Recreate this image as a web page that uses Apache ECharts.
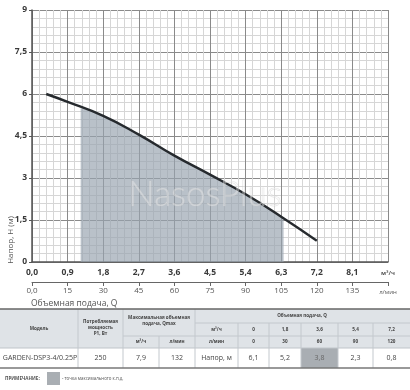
<!DOCTYPE html>
<html><head><meta charset="utf-8">
<script src="https://cdn.jsdelivr.net/npm/echarts@6/dist/echarts.min.js"></script>
<style>html,body{margin:0;padding:0;background:#fff}#c{width:410px;height:390px}</style>
</head><body><div id="c"></div>
<script>
// Pump curve (flow m3/h, head m)
var curveX = [0.36, 0.9, 1.8, 2.7, 3.6, 4.5, 5.4, 6.3, 7.2];
var curveY = [6.0, 5.72, 5.22, 4.55, 3.8, 3.12, 2.42, 1.62, 0.76];
// Shaded (max efficiency) zone
var zoneX = [1.23, 1.8, 2.7, 3.6, 4.5, 5.4, 6.3, 6.36];
var zoneY = [5.5, 5.22, 4.55, 3.8, 3.12, 2.42, 1.62, 1.57];
// Table data
var tModel = 'GARDEN-DSP3-4/0.25P';
var tPower = '250';
var tQmaxM3 = '7,9';
var tQmaxL = '132';
var tFlowM3 = ['0', '1,8', '3,6', '5,4', '7,2'];
var tFlowL = ['0', '30', '60', '90', '120'];
var tHead = ['6,1', '5,2', '3,8', '2,3', '0,8'];
var tHighlight = 2;

function pairs(xs, ys){ return xs.map(function(x,i){return [x, ys[i]];}); }
var F = '"Open Sans", "Noto Sans", sans-serif';

var chart = echarts.init(document.getElementById('c'), null, {renderer:'canvas'});

var g = [];
function rect(x,y,w,h,fill,z){ g.push({type:'rect',shape:{x:x,y:y,width:w,height:h},style:{fill:fill},z:z||1,silent:true}); }
function line(x1,y1,x2,y2,c,w,z){ g.push({type:'line',shape:{x1:x1,y1:y1,x2:x2,y2:y2},style:{stroke:c,lineWidth:w||1},z:z||2,silent:true}); }
function text(x,y,t,size,opts){
  opts = opts||{};
  g.push({type:'text',x:x,y:y,z:opts.z||3,silent:true,rotation:opts.rot||0,
    style:{text:t,fontSize:size,fontFamily:F,fontWeight:opts.bold?'bold':'normal',fill:opts.color||'#444',
      align:opts.align||'center',verticalAlign:'middle',lineHeight:opts.lh||size*1.2}});
}
// axis titles
text(11, 240, 'Напор, Н (м)', 8, {rot: Math.PI/2, color:'#555'});
text(31, 304, 'Объемная подача, Q', 8.5, {align:'left', color:'#555'});
// watermark
g.push({type:'text',x:205,y:195,z:10,silent:true,style:{text:'NasosPlus',fontSize:35,fontFamily:'Lato, sans-serif',fontWeight:300,
  fill:'rgba(255,255,255,0.3)',stroke:'rgba(200,200,200,0.5)',lineWidth:0.7,align:'center',verticalAlign:'middle'}});

// table
var T0=309, T1=323, T2=336, T3=348, T4=368;
var vc = [238, 269, 301, 338, 373, 410];
rect(0, T0, 410, T3-T0, '#dfe3e7');
rect(0, T3, 410, T4-T3, '#ffffff');
rect(vc[tHighlight], T3, vc[tHighlight+1]-vc[tHighlight], T4-T3, '#a9aeb3');
var hl = '#c3c8cd';
line(195, T1, 410, T1, hl);
line(123, T2, 410, T2, hl);
line(0, T3, 410, T3, '#bfc4c9');
[78,123,195].forEach(function(x){ line(x, T0, x, T4, '#c3c8cd'); });
line(159, T2, 159, T4, '#c3c8cd');
vc.slice(0,5).forEach(function(x){ line(x, T1, x, T4, '#c3c8cd'); });
line(0, T0, 410, T0, '#666', 1.5, 4);
line(0, T4, 410, T4, '#777', 1.5, 4);
var hs = 4.6;
text(39, 329, 'Модель', hs, {bold:true});
text(100.5, 328, 'Потребляемая\nмощность\nP1, Вт', hs, {bold:true, lh:6});
text(159, 321, 'Максимальная объемная\nподача, Qmax', hs, {bold:true, lh:6});
text(141, 342, 'м³/ч', hs, {bold:true});
text(177, 342, 'л/мин', hs, {bold:true});
text(302, 316, 'Объемная подача, Q', hs, {bold:true});
text(216.5, 329.5, 'м³/ч', hs, {bold:true});
text(216.5, 342, 'л/мин', hs, {bold:true});
for (var i=0;i<5;i++){
  var cx = (vc[i]+vc[i+1])/2;
  text(cx, 329.5, tFlowM3[i], hs, {bold:true});
  text(cx, 342, tFlowL[i], hs, {bold:true});
  text(cx, 358, tHead[i], 7, {color: i===tHighlight?'#666':'#444'});
}
text(40, 358, tModel, 7);
text(100.5, 358, tPower, 7);
text(141, 358, tQmaxM3, 7);
text(177, 358, tQmaxL, 7);
text(216.5, 358, 'Напор, м', 7);
// note
text(5, 379, 'ПРИМЕЧАНИЕ:', 4.6, {bold:true, align:'left', color:'#555'});
rect(47, 372, 13, 13, '#a9aeb3');
text(62, 379, '- точка максимального к.п.д.', 4.4, {align:'left', color:'#555'});

function fmt1(v){ return v.toFixed(1).replace('.', ','); }

chart.setOption({
  animation:false,
  grid:{left:32, right:22, top:10, bottom:128, containLabel:false},
  xAxis:[{
    type:'value', min:0, max:9, interval:0.9, position:'bottom',
    axisLine:{show:true, lineStyle:{color:'#555', width:1.5}},
    axisTick:{show:false},
    axisLabel:{margin:6, fontSize:8.5, fontWeight:'bold', color:'#3a3a3a', fontFamily:F,
      formatter:function(v){ return Math.abs(v-9)<1e-6 ? '{u|м³/ч}' : fmt1(v); },
      rich:{u:{fontSize:6, fontWeight:'bold', color:'#555', fontFamily:F, padding:[2,0,0,0]}}},
    splitLine:{show:true, lineStyle:{color:'#8a8a8a', width:1}},
    minorTick:{show:false, splitNumber:5},
    minorSplitLine:{show:true, lineStyle:{color:'#d6d6d6', width:1}}
  },{
    type:'value', min:0, max:150, interval:15, position:'bottom', offset:20,
    axisLine:{show:true, lineStyle:{color:'#666', width:1}},
    axisTick:{show:true, length:4, lineStyle:{color:'#666'}},
    axisLabel:{margin:5, fontSize:8, color:'#555', fontFamily:F,
      formatter:function(v){ return v===0 ? '0,0' : (v===150 ? '{u|л/мин}' : String(v)); },
      rich:{u:{fontSize:6, color:'#555', fontFamily:F, padding:[2,0,0,0]}}},
    splitLine:{show:false}
  }],
  yAxis:{
    type:'value', min:0, max:9, interval:1.5,
    axisLine:{show:true, lineStyle:{color:'#555', width:1.5}},
    axisTick:{show:true, length:3, lineStyle:{color:'#555'}},
    axisLabel:{margin:5, fontSize:8.5, fontWeight:'bold', color:'#3a3a3a', fontFamily:F,
      formatter:function(v){ return String(v).replace('.', ','); }},
    splitLine:{show:true, lineStyle:{color:'#8a8a8a', width:1}},
    minorTick:{show:false, splitNumber:5},
    minorSplitLine:{show:true, lineStyle:{color:'#d6d6d6', width:1}}
  },
  series:[{
    type:'line', xAxisIndex:0, data:pairs(zoneX, zoneY), smooth:0.5, symbol:'none',
    lineStyle:{width:0}, areaStyle:{color:'#98a3af', opacity:0.68, origin:'start'}, z:1
  },{
    type:'line', xAxisIndex:0, data:pairs(curveX, curveY), smooth:0.5, symbol:'none',
    lineStyle:{color:'#262a2e', width:2.4}, z:3
  }],
  graphic:g
});
</script></body></html>
